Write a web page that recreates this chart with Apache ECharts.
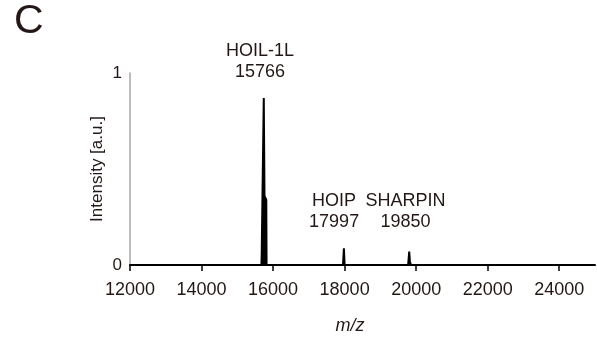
<!DOCTYPE html>
<html>
<head>
<meta charset="utf-8">
<script src="https://cdn.jsdelivr.net/npm/echarts@6/dist/echarts.min.js"></script>
<style>
  html, body { margin: 0; padding: 0; background: #fff; }
  #chart { width: 597px; height: 345px; }
</style>
</head>
<body>
<div id="chart"></div>
<script>
// spectrum (m/z, normalised intensity)
const mz = [12000, 15675, 15683, 15715, 15740, 15752, 15760, 15810, 15818,
  17955, 17962, 17975, 17980, 17992, 18000,
  19775, 19785, 19800, 19806, 19818, 19824, 19845, 19855, 25000];
const intensity = [0, 0, 0.07, 0.07, 0.87, 0.87, 0.36, 0.34, 0,
  0, 0.025, 0.025, 0.087, 0.087, 0,
  0, 0.02, 0.02, 0.07, 0.07, 0.02, 0.02, 0, 0];

const peakNames = ['HOIL-1L', 'HOIP', 'SHARPIN'];
const peakMass = [15766, 17997, 19850];
const peakPos = [[15745, 0.87], [17986, 0.087], [19812, 0.07]];
const peakOffset = [[-4, -36], [-10, -37], [-4, -40]];

const xTicks = { min: 12000, max: 25000, step: 2000 };
const yTicks = { min: 0, max: 1, step: 1 };

const ink = '#231815';
const font = 'Liberation Sans, Arial, sans-serif';

const chart = echarts.init(document.getElementById('chart'));

chart.setOption({
  animation: false,
  grid: { left: 130, right: 2, top: 73, bottom: 80 },
  graphic: [
    {
      type: 'text',
      left: 14,
      top: 1,
      style: { text: 'C', font: '41px ' + font, fill: ink }
    }
  ],
  xAxis: {
    type: 'value',
    min: xTicks.min,
    max: xTicks.max,
    interval: xTicks.step,
    name: 'm/z',
    nameLocation: 'middle',
    nameGap: 52,
    nameTextStyle: {
      fontFamily: font, fontSize: 18, fontStyle: 'italic', color: ink,
      padding: [0, 25, 0, 0]
    },
    axisLine: { lineStyle: { color: '#000', width: 2 } },
    axisTick: { length: 6, lineStyle: { color: '#000', width: 1.5 } },
    axisLabel: {
      fontFamily: font, fontSize: 18, color: ink, margin: 16,
      formatter: v => String(v)
    },
    splitLine: { show: false }
  },
  yAxis: {
    type: 'value',
    min: yTicks.min,
    max: yTicks.max,
    interval: yTicks.step,
    name: 'Intensity [a.u.]',
    nameLocation: 'middle',
    nameRotate: 90,
    nameGap: 24,
    nameMoveOverlap: false,
    nameTextStyle: { fontFamily: font, fontSize: 17, color: ink },
    axisLine: { show: true, lineStyle: { color: '#a6a6a6', width: 1.5 } },
    axisTick: { show: false },
    axisLabel: { fontFamily: font, fontSize: 17, color: ink, margin: 8 },
    splitLine: { show: false }
  },
  series: [
    {
      type: 'line',
      data: mz.map((m, i) => [m, intensity[i]]),
      symbol: 'none',
      lineStyle: { color: '#000', width: 2 },
      areaStyle: { color: '#000', opacity: 1 },
      z: 3,
      markPoint: {
        symbol: 'circle',
        symbolSize: 1,
        itemStyle: { color: 'rgba(0,0,0,0)' },
        label: {
          show: true,
          position: 'inside',
          fontFamily: font,
          fontSize: 18,
          lineHeight: 21,
          color: ink,
          align: 'center',
          verticalAlign: 'middle'
        },
        data: peakNames.map((n, i) => ({
          coord: peakPos[i],
          label: {
            formatter: n + '\n' + peakMass[i],
            offset: peakOffset[i]
          }
        }))
      }
    }
  ]
});
</script>
</body>
</html>
